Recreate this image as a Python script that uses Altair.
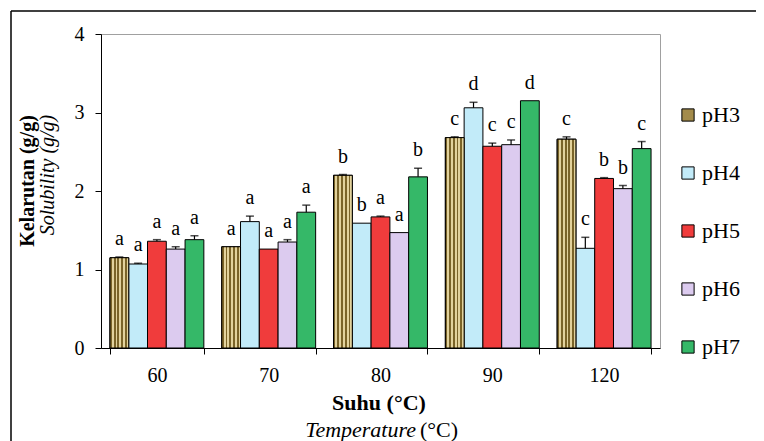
import altair as alt
import pandas as pd

temps = ["60", "70", "80", "90", "120"]
phs = ["pH3", "pH4", "pH5", "pH6", "pH7"]

values = {
    "pH3": [1.15, 1.29, 2.20, 2.68, 2.66],
    "pH4": [1.07, 1.61, 1.59, 3.06, 1.27],
    "pH5": [1.36, 1.26, 1.67, 2.57, 2.16],
    "pH6": [1.26, 1.35, 1.47, 2.59, 2.03],
    "pH7": [1.38, 1.73, 2.18, 3.15, 2.54],
}
errors = {
    "pH3": [0.01, 0.0, 0.01, 0.01, 0.03],
    "pH4": [0.01, 0.07, 0.0, 0.07, 0.14],
    "pH5": [0.02, 0.0, 0.01, 0.04, 0.01],
    "pH6": [0.03, 0.03, 0.0, 0.06, 0.04],
    "pH7": [0.05, 0.09, 0.11, 0.0, 0.09],
}
letters = {
    "pH3": ["a", "a", "b", "c", "c"],
    "pH4": ["a", "a", "b", "d", "c"],
    "pH5": ["a", "a", "a", "c", "b"],
    "pH6": ["a", "a", "a", "c", "b"],
    "pH7": ["a", "a", "b", "d", "c"],
}
colors = ["#a38b4b", "#c2ebf9", "#f03c3c", "#dccbef", "#35b868"]

rows = []
for p in phs:
    for i, t in enumerate(temps):
        rows.append({"temp": t, "ph": p, "val": values[p][i], "err": errors[p][i],
                     "top": values[p][i] + errors[p][i], "lab": letters[p][i]})
df = pd.DataFrame(rows)

FONT = "Liberation Serif"

x_enc = alt.X("temp:N", sort=temps,
              scale=alt.Scale(paddingInner=0.16, paddingOuter=0.08),
              axis=alt.Axis(title=None, labelAngle=0, tickBand="extent", tickSize=6,
                            labelPadding=11, labelFont=FONT, labelFontSize=20,
                            labelColor="black", domainColor="black", tickColor="black"))
xo_enc = alt.XOffset("ph:N", sort=phs, scale=alt.Scale(domain=phs, paddingInner=0, paddingOuter=0))
y_scale = alt.Scale(domain=[0, 4], nice=False)

base = alt.Chart(df)

bars = base.mark_bar(stroke="black", strokeWidth=1).encode(
    x=x_enc,
    xOffset=xo_enc,
    y=alt.Y("val:Q", scale=y_scale,
            axis=alt.Axis(title=None, values=[0, 1, 2, 3, 4], format="d", grid=False, tickSize=6,
                          labelPadding=11, labelFont=FONT, labelFontSize=20,
                          labelColor="black", domainColor="black", tickColor="black")),
    color=alt.Color("ph:N", sort=phs, scale=alt.Scale(domain=phs, range=colors),
                    legend=alt.Legend(title=None, orient="none", legendX=576, legendY=70,
                                      direction="vertical", symbolType="square",
                                      symbolSize=150, symbolStrokeColor="black",
                                      symbolStrokeWidth=1, labelFont=FONT,
                                      labelFontSize=22, labelColor="black",
                                      rowPadding=36, labelOffset=3)),
)

stops = []
n = 5
for k in range(n):
    a = k / n
    b = (k + 0.5) / n
    c = (k + 1) / n
    stops += [alt.GradientStop(offset=a, color="#7a6428"),
              alt.GradientStop(offset=b, color="#7a6428"),
              alt.GradientStop(offset=b, color="#e2d29c"),
              alt.GradientStop(offset=c, color="#e2d29c")]
grad = alt.LinearGradient(gradient="linear", stops=stops, x1=0, x2=1, y1=0, y2=0)

ph3 = base.transform_filter(alt.datum.ph == "pH3").mark_bar(
    fill=grad, stroke="black", strokeWidth=1).encode(
    x=alt.X("temp:N", sort=temps), xOffset=xo_enc, y=alt.Y("val:Q", scale=y_scale))

errdf = base.transform_filter(alt.datum.err > 0)
err_rule = errdf.mark_rule(color="black", strokeWidth=1.2).encode(
    x=alt.X("temp:N", sort=temps), xOffset=xo_enc,
    y=alt.Y("val:Q", scale=y_scale), y2="top:Q")
err_cap = errdf.mark_tick(color="black", size=8, thickness=1.5).encode(
    x=alt.X("temp:N", sort=temps), xOffset=xo_enc, y=alt.Y("top:Q", scale=y_scale))

txt = base.mark_text(font=FONT, fontSize=20, color="black", baseline="alphabetic", dy=-12).encode(
    x=alt.X("temp:N", sort=temps), xOffset=xo_enc, y=alt.Y("top:Q", scale=y_scale),
    text="lab:N")

def note(text, x, y, **kw):
    return alt.Chart(pd.DataFrame({"t": [text]})).mark_text(font=FONT, color="black", **kw).encode(
        x=alt.value(x), y=alt.value(y), text="t:N")

xt1 = note("Suhu (°C)", 278, 376, fontSize=22, fontWeight="bold", align="center", baseline="alphabetic")
xt2 = note("Temperature", 315, 403, fontSize=22, fontStyle="italic", align="right", baseline="alphabetic")
xt3 = note("(°C)", 319, 403, fontSize=22, align="left", baseline="alphabetic")
yt1 = note("Kelarutan (g/g)", -67, 147, fontSize=20, fontWeight="bold", angle=270,
           align="center", baseline="alphabetic")
yt2 = note("Solubility (g/g)", -47, 141, fontSize=20, fontStyle="italic", angle=270,
           align="center", baseline="alphabetic")

frame_df = pd.DataFrame({"k": [0]})
fl = alt.Chart(frame_df).mark_rule(color="black", strokeWidth=1.5).encode(
    x=alt.value(-90), y=alt.value(-23), y2=alt.value(420))
ft = alt.Chart(frame_df).mark_rule(color="black", strokeWidth=1.5).encode(
    x=alt.value(-90), x2=alt.value(700), y=alt.value(-23))

chart = alt.layer(bars, ph3, err_rule, err_cap, txt, xt1, xt2, xt3, yt1, yt2, fl, ft).properties(
    width=559, height=314,
    autosize=alt.AutoSizeParams(type="none"),
    padding={"left": 93, "top": 26, "right": 96, "bottom": 93},
    background="white",
).configure_view(stroke="#a0a0a0", strokeWidth=1)

chart.save("out.html", embed_options={"renderer": "svg", "actions": False})
